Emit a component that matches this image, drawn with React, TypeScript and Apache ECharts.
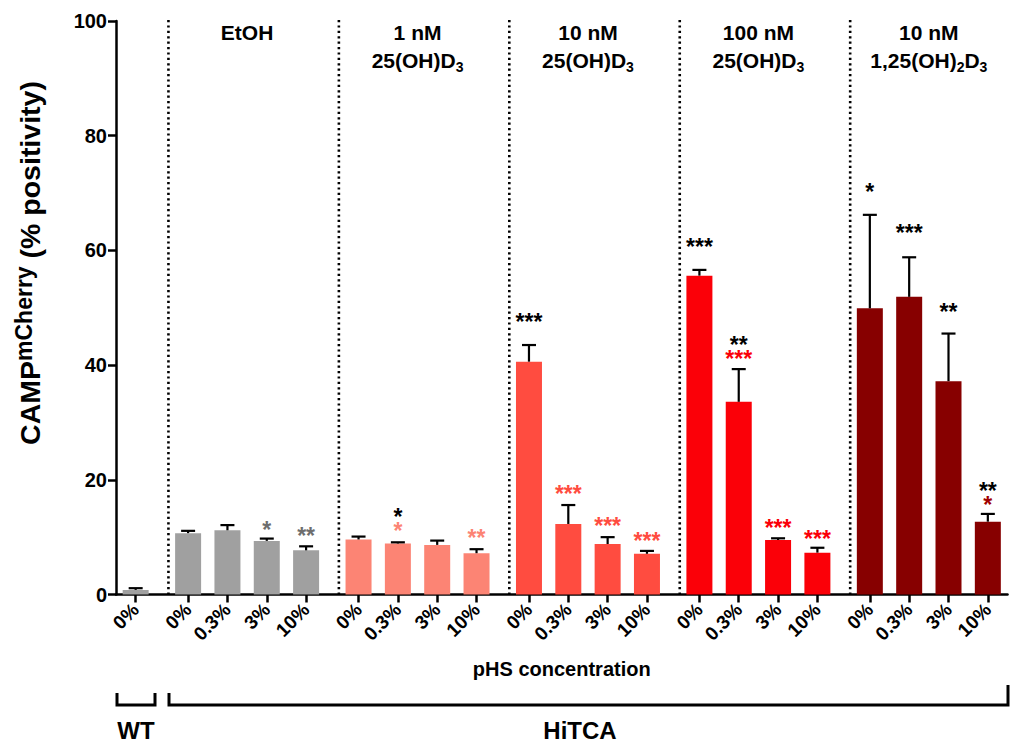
import React, { useEffect, useRef } from 'react';
import * as echarts from 'echarts';

const FONT = '"Liberation Sans", Arial, Helvetica, sans-serif';

// ---------- data ----------
const pHSLevels = ['0%', '0.3%', '3%', '10%'];
const groupHeaders = [
  '{h|EtOH}',
  '{h|1 nM}\n{h|25(OH)D}{s|3}',
  '{h|10 nM}\n{h|25(OH)D}{s|3}',
  '{h|100 nM}\n{h|25(OH)D}{s|3}',
  '{h|10 nM}\n{h|1,25(OH)}{s|2}{h|D}{s|3}',
];
const groupColors = ['#a0a0a0', '#fc8474', '#ff4c40', '#fb0008', '#870000'];
const starColors = ['#6e6e6e', '#fc8474', '#ff4c40', '#fb0008', '#a00000'];

const wtMean = [0.8];
const wtSem = [0.3];
const wtColor = '#a0a0a0';

const etohMean = [10.7, 11.2, 9.35, 7.7];
const etohSem = [0.4, 0.9, 0.4, 0.7];
const nM1Mean = [9.6, 8.9, 8.65, 7.2];
const nM1Sem = [0.5, 0.2, 0.75, 0.7];
const nM10Mean = [40.6, 12.3, 8.8, 7.1];
const nM10Sem = [2.9, 3.3, 1.2, 0.5];
const nM100Mean = [55.6, 33.6, 9.5, 7.3];
const nM100Sem = [1.0, 5.7, 0.3, 0.85];
const d125Mean = [49.9, 51.9, 37.2, 12.7];
const d125Sem = [16.3, 6.9, 8.3, 1.35];

// significance marks per bar: lines from top to bottom [text, 'black' | 'group'], and y (axis units) of the top line
const etohStars = [[], [], [['*', 'group']], [['**', 'group']]];
const etohStarY = [0, 0, 12.2, 11.2];
const nM1Stars = [[], [['*', 'black'], ['*', 'group']], [], [['**', 'group']]];
const nM1StarY = [0, 14.5, 0, 10.8];
const nM10Stars = [[['***', 'black']], [['***', 'group']], [['***', 'group']], [['***', 'group']]];
const nM10StarY = [48.5, 18.5, 12.8, 10.3];
const nM100Stars = [[['***', 'black']], [['**', 'black'], ['***', 'group']], [['***', 'group']], [['***', 'group']]];
const nM100StarY = [61.6, 44.4, 12.5, 10.7];
const d125Stars = [[['*', 'black']], [['***', 'black']], [['**', 'black']], [['**', 'black'], ['*', 'group']]];
const d125StarY = [71.1, 63.9, 50.2, 19.0];

const yTicks = [0, 20, 40, 60, 80, 100];

// ---------- layout helpers ----------
const SLOTS = 68;
const WT_SLOT = 1;
const slotOf = (g: number, i: number) => 5 + g * 13 + i * 3;
const separatorSlots = [3, 16, 29, 42, 55];

const groupMeans = [etohMean, nM1Mean, nM10Mean, nM100Mean, d125Mean];
const groupSems = [etohSem, nM1Sem, nM10Sem, nM100Sem, d125Sem];
const groupStars = [etohStars, nM1Stars, nM10Stars, nM100Stars, d125Stars];
const groupStarY = [etohStarY, nM1StarY, nM10StarY, nM100StarY, d125StarY];

const STAR_FS = 23;
const STAR_LH = 14;

export default function App() {
  const ref = useRef<HTMLDivElement>(null);

  useEffect(() => {
    if (!ref.current) return;
    const chart = echarts.init(ref.current, undefined, { renderer: 'svg' });

    const slotIds = Array.from({ length: SLOTS }, (_, k) => 's' + k);
    const labelById: Record<string, string> = {};
    slotIds.forEach((id) => (labelById[id] = ''));
    const barData: any[] = Array.from({ length: SLOTS }, () => null);
    const errData: number[][] = [];
    const starItems: { slot: number; y: number; text: string; rich: any }[] = [];

    labelById[slotIds[WT_SLOT]] = pHSLevels[0];
    barData[WT_SLOT] = { value: wtMean[0], itemStyle: { color: wtColor } };
    errData.push([WT_SLOT, wtMean[0], wtSem[0]]);

    groupMeans.forEach((means, g) => {
      means.forEach((m, i) => {
        const s = slotOf(g, i);
        labelById[slotIds[s]] = pHSLevels[i];
        barData[s] = { value: m, itemStyle: { color: groupColors[g] } };
        errData.push([s, m, groupSems[g][i]]);
        const lines: any[] = groupStars[g][i];
        if (lines.length) {
          const rich: any = {};
          const text = lines
            .map((l, k) => {
              rich['c' + k] = {
                fontSize: STAR_FS,
                fontWeight: 'bold',
                fontFamily: FONT,
                fill: l[1] === 'black' ? '#000' : starColors[g],
                lineHeight: STAR_LH,
                align: 'center',
              };
              return '{c' + k + '|' + l[0] + '}';
            })
            .join('\n');
          starItems.push({ slot: s, y: groupStarY[g][i], text, rich });
        }
      });
    });

    const headerData = groupHeaders.map((_, g) => [slotOf(g, 0), slotOf(g, 3)]);

    const option: any = {
      animation: false,
      grid: { left: 116, top: 21, width: 891.5, height: 573.5 },
      xAxis: {
        type: 'category',
        data: slotIds,
        boundaryGap: true,
        axisLine: { show: true, lineStyle: { color: '#000', width: 2.5 } },
        axisTick: {
          show: true,
          alignWithLabel: true,
          interval: (i: number, v: string) => labelById[v] !== '',
          length: 8,
          lineStyle: { color: '#000', width: 2.5 },
        },
        axisLabel: {
          interval: (i: number, v: string) => labelById[v] !== '',
          formatter: (v: string) => labelById[v],
          rotate: 45,
          fontSize: 19,
          fontWeight: 'bold',
          fontFamily: FONT,
          color: '#000',
          margin: 12,
        },
        splitLine: { show: false },
        name: 'pHS concentration',
        nameLocation: 'middle',
        nameGap: 64,
        nameTextStyle: { fontSize: 20, fontWeight: 'bold', fontFamily: FONT, color: '#000' },
      },
      yAxis: {
        type: 'value',
        min: yTicks[0],
        max: yTicks[yTicks.length - 1],
        interval: 20,
        axisLine: { show: true, lineStyle: { color: '#000', width: 2.5 } },
        axisTick: { show: true, length: 8, lineStyle: { color: '#000', width: 2.5 } },
        axisLabel: { fontSize: 20, fontWeight: 'bold', fontFamily: FONT, color: '#000', margin: 9 },
        splitLine: { show: false },
      },
      series: [
        {
          type: 'bar',
          data: barData,
          barWidth: 26,
          itemStyle: { borderWidth: 0 },
          z: 2,
        },
        {
          type: 'custom',
          data: errData,
          z: 3,
          renderItem: (params: any, api: any) => {
            const x = api.value(0);
            const m = api.value(1);
            const e = api.value(2);
            const p0 = api.coord([x, m]);
            const p1 = api.coord([x, m + e]);
            const st = { stroke: '#000', lineWidth: 2.2 };
            return {
              type: 'group',
              children: [
                { type: 'line', shape: { x1: p0[0], y1: p0[1], x2: p1[0], y2: p1[1] }, style: st },
                { type: 'line', shape: { x1: p1[0] - 7, y1: p1[1], x2: p1[0] + 7, y2: p1[1] }, style: st },
              ],
            };
          },
        },
        {
          type: 'custom',
          data: starItems.map((s) => [s.slot, s.y]),
          z: 4,
          renderItem: (params: any, api: any) => {
            const it = starItems[params.dataIndex];
            const p = api.coord([it.slot, it.y]);
            return {
              type: 'text',
              x: p[0],
              y: p[1] - STAR_LH / 2 + 0.235 * STAR_FS,
              style: {
                text: it.text,
                rich: it.rich,
                align: 'center',
                verticalAlign: 'top',
              },
            };
          },
        },
        {
          type: 'custom',
          data: separatorSlots.map((s) => [s, 0]),
          z: 1,
          renderItem: (params: any, api: any) => {
            const s = api.value(0);
            const w = api.size([1, 0])[0];
            const p0 = api.coord([s, 0]);
            const p1 = api.coord([s, 100]);
            const x = p0[0] + w / 2;
            return {
              type: 'line',
              shape: { x1: x, y1: p1[1] - 1, x2: x, y2: p0[1] },
              style: { stroke: '#000', lineWidth: 2.6, lineDash: [2.2, 3.2] },
            };
          },
        },
        {
          type: 'custom',
          data: headerData,
          z: 4,
          renderItem: (params: any, api: any) => {
            const a = api.coord([api.value(0), 100]);
            const b = api.coord([api.value(1), 100]);
            return {
              type: 'text',
              x: (a[0] + b[0]) / 2,
              y: a[1] - 3,
              style: {
                text: groupHeaders[params.dataIndex],
                align: 'center',
                verticalAlign: 'top',
                rich: {
                  h: { fontSize: 21, fontWeight: 'bold', fontFamily: FONT, fill: '#000', lineHeight: 28, align: 'center' },
                  s: { fontSize: 14, fontWeight: 'bold', fontFamily: FONT, fill: '#000', lineHeight: 14, verticalAlign: 'bottom' },
                },
              },
            };
          },
        },
      ],
      graphic: [
        {
          type: 'text',
          x: 30,
          y: 263,
          rotation: Math.PI / 2,
          style: {
            text: '{a|CAMP}{b|mCherry}{a| (% positivity)}',
            align: 'center',
            verticalAlign: 'middle',
            rich: {
              a: { fontSize: 28.5, fontWeight: 'bold', fontFamily: FONT, fill: '#000', lineHeight: 36, verticalAlign: 'middle' },
              b: { fontSize: 23, fontWeight: 'bold', fontFamily: FONT, fill: '#000', lineHeight: 24, verticalAlign: 'top' },
            },
          },
        },
        {
          type: 'polyline',
          shape: { points: [[117, 693], [117, 705], [155, 705], [155, 693]] },
          style: { stroke: '#000', lineWidth: 3, fill: null },
        },
        {
          type: 'polyline',
          shape: { points: [[169, 693], [169, 705], [1008, 705], [1008, 685]] },
          style: { stroke: '#000', lineWidth: 3, fill: null },
        },
        {
          type: 'text',
          x: 136,
          y: 730,
          style: { text: 'WT', font: 'bold 24px ' + FONT, fill: '#000', align: 'center', verticalAlign: 'middle' },
        },
        {
          type: 'text',
          x: 580,
          y: 730,
          style: { text: 'HiTCA', font: 'bold 24px ' + FONT, fill: '#000', align: 'center', verticalAlign: 'middle' },
        },
      ],
    };

    chart.setOption(option);
    return () => chart.dispose();
  }, []);

  return (
    <div
      ref={ref}
      style={{ position: 'absolute', left: 0, top: 0, width: 1014, height: 743, background: '#fff' }}
    />
  );
}
